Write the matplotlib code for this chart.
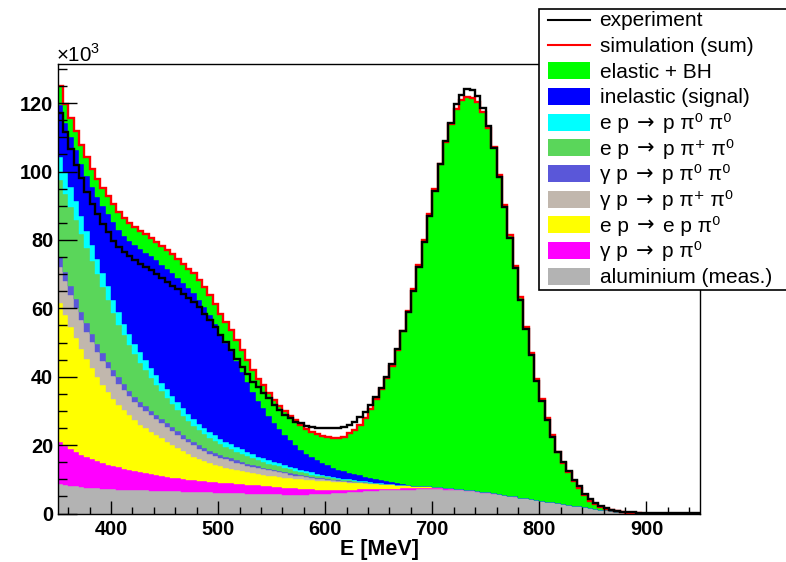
import numpy as np
import matplotlib
matplotlib.use("Agg")
import matplotlib.pyplot as plt
from matplotlib.patches import Rectangle
from matplotlib.lines import Line2D

plt.rcParams['font.family'] = ['Liberation Sans', 'DejaVu Sans']
plt.rcParams['mathtext.fontset'] = 'custom'
plt.rcParams['mathtext.rm'] = 'Liberation Sans'

# ---------------- data (counts in units of 10^3, 5 MeV bins from 350 to 950 MeV) ----------------
E_MIN, E_MAX, BIN_W = 350, 950, 5

aluminium = [8.6, 8.3, 8.1, 7.9, 7.7, 7.6, 7.5, 7.4, 7.3, 7.2,
             7.1, 7.0, 7.0, 6.9, 6.9, 6.8, 6.8, 6.7, 6.7, 6.6,
             6.6, 6.5, 6.5, 6.4, 6.4, 6.3, 6.3, 6.2, 6.2, 6.1,
             6.1, 6.0, 6.0, 5.9, 5.9, 5.8, 5.8, 5.7, 5.7, 5.6,
             5.6, 5.6, 5.5, 5.5, 5.5, 5.5, 5.5, 5.6, 5.6, 5.7,
             5.8, 5.9, 6.0, 6.1, 6.2, 6.3, 6.4, 6.5, 6.6, 6.7,
             6.8, 6.8, 6.9, 6.9, 7.0, 7.0, 7.0, 7.1, 7.1, 7.1,
             7.1, 7.1, 7.0, 7.0, 6.9, 6.8, 6.7, 6.5, 6.3, 6.1,
             6.0, 5.8, 5.6, 5.4, 5.1, 4.9, 4.6, 4.4, 4.2, 4.0,
             3.8, 3.5, 3.3, 3.0, 2.8, 2.6, 2.3, 2.1, 1.8, 1.6,
             1.3, 1.1, 0.9, 0.7, 0.5, 0.35, 0.2, 0.1, 0.05, 0,
             0, 0, 0, 0, 0, 0, 0, 0, 0, 0]

gp_ppi0 = [12.4, 11.5, 10.7, 10.1, 9.5, 8.9, 8.4, 7.9, 7.5, 7.1,
           6.8, 6.5, 6.1, 5.8, 5.5, 5.3, 5.0, 4.8, 4.5, 4.4,
           4.1, 4.0, 3.8, 3.7, 3.5, 3.4, 3.2, 3.2, 3.0, 3.0,
           2.9, 2.9, 2.8, 2.7, 2.6, 2.6, 2.5, 2.5, 2.4, 2.4,
           2.2, 2.1, 2.1, 2.0, 1.9, 1.8, 1.7, 1.5, 1.4, 1.3,
           1.2, 1.1, 1.0, 0.9, 0.8, 0.7, 0.7, 0.6, 0.5, 0.5,
           0.5, 0.5, 0.4, 0.4, 0.4, 0.4, 0.4, 0.4, 0.4, 0.4,
           0.4, 0.4, 0.4, 0.3, 0.3, 0.3, 0.3, 0.3, 0.2, 0.2,
           0.2, 0.2, 0.1, 0.1, 0.1, 0.1, 0, 0, 0, 0,
           0, 0, 0, 0, 0, 0, 0, 0, 0, 0,
           0, 0, 0, 0, 0, 0, 0, 0, 0, 0,
           0, 0, 0, 0, 0, 0, 0, 0, 0, 0]

ep_eppi0 = [40.5, 38.3, 35.8, 33.2, 30.8, 28.6, 26.5, 24.6, 22.8, 21.3,
            19.7, 18.3, 17.1, 16.0, 14.9, 13.9, 13.1, 12.4, 11.7, 11.0,
            10.3, 9.6, 8.9, 8.2, 7.5, 6.9, 6.4, 5.9, 5.5, 5.1,
            4.8, 4.5, 4.3, 4.1, 3.9, 3.7, 3.5, 3.3, 3.2, 3.1,
            3.1, 3.0, 2.9, 2.8, 2.7, 2.7, 2.6, 2.6, 2.6, 2.5,
            2.4, 2.3, 2.2, 2.1, 2.0, 1.9, 1.8, 1.7, 1.6, 1.5,
            1.4, 1.3, 1.2, 1.1, 1.0, 0.8, 0.7, 0.6, 0.5, 0.4,
            0.3, 0.2, 0.2, 0.1, 0.1, 0, 0, 0, 0, 0,
            0, 0, 0, 0, 0, 0, 0, 0, 0, 0,
            0, 0, 0, 0, 0, 0, 0, 0, 0, 0,
            0, 0, 0, 0, 0, 0, 0, 0, 0, 0,
            0, 0, 0, 0, 0, 0, 0, 0, 0, 0]

gp_ppipluspi0 = [10.5, 9.8, 9.3, 8.9, 8.5, 8.1, 7.7, 7.4, 7.1, 6.8,
                 6.5, 6.2, 5.9, 5.6, 5.4, 5.2, 5.0, 4.8, 4.6, 4.4,
                 4.2, 4.0, 3.8, 3.6, 3.5, 3.3, 3.1, 3.0, 2.8, 2.7,
                 2.5, 2.4, 2.3, 2.1, 2.0, 1.9, 1.8, 1.7, 1.6, 1.5,
                 1.4, 1.3, 1.2, 1.1, 1.0, 0.9, 0.8, 0.7, 0.6, 0.6,
                 0.5, 0.4, 0.4, 0.3, 0.3, 0.2, 0.2, 0.2, 0.1, 0.1] + [0] * 60

gp_ppi0pi0 = [2.9, 2.8, 2.7, 2.6, 2.5, 2.4, 2.3, 2.2, 2.1, 2.0,
              1.9, 1.8, 1.7, 1.6, 1.5, 1.4, 1.4, 1.3, 1.3, 1.2,
              1.2, 1.1, 1.1, 1.0, 1.0, 0.95, 0.9, 0.9, 0.85, 0.8,
              0.8, 0.75, 0.7, 0.7, 0.65, 0.6, 0.6, 0.55, 0.5, 0.5,
              0.45, 0.45, 0.4, 0.4, 0.35, 0.35, 0.3, 0.3, 0.3, 0.25,
              0.25, 0.2, 0.2, 0.2, 0.15, 0.15, 0.1, 0.1, 0.1, 0.05] + [0] * 60

ep_ppipluspi0 = [22.5, 22.8, 23.0, 23.0, 22.6, 22.0, 21.3, 20.4, 19.3, 18.0,
                 16.7, 15.4, 14.3, 13.3, 12.4, 11.5, 10.6, 9.7, 8.9, 8.1,
                 7.4, 6.8, 6.2, 5.7, 5.2, 4.8, 4.4, 4.1, 3.8, 3.5,
                 3.2, 3.0, 2.8, 2.6, 2.4, 2.2, 2.0, 1.8, 1.7, 1.5,
                 1.4, 1.3, 1.2, 1.1, 1.0, 0.9, 0.8, 0.7, 0.6, 0.5,
                 0.45, 0.4, 0.35, 0.3, 0.25, 0.2, 0.15, 0.1, 0.1, 0.05] + [0] * 60

ep_ppi0pi0 = [6.8, 6.4, 6.0, 5.6, 5.3, 5.0, 4.7, 4.4, 4.2, 4.0,
              3.8, 3.6, 3.4, 3.3, 3.1, 3.0, 2.9, 2.8, 2.7, 2.6,
              2.5, 2.4, 2.3, 2.2, 2.1, 2.0, 1.9, 1.8, 1.75, 1.7,
              1.6, 1.5, 1.45, 1.4, 1.3, 1.25, 1.2, 1.1, 1.05, 1.0,
              0.95, 0.9, 0.85, 0.8, 0.75, 0.7, 0.65, 0.6, 0.55, 0.5,
              0.45, 0.4, 0.35, 0.3, 0.3, 0.25, 0.2, 0.2, 0.15, 0.1,
              0.1, 0.05] + [0] * 58

inelastic = [15.1, 14.3, 14.5, 15.0, 15.4, 16.2, 17.1, 18.3, 19.7, 21.1,
             22.6, 24.1, 25.7, 27.2, 28.8, 30.2, 31.5, 32.7, 33.6, 34.5,
             35.3, 35.9, 36.3, 36.5, 36.7, 36.8, 36.2, 35.3, 34.0, 32.4,
             30.5, 28.9, 27.2, 25.0, 22.7, 20.4, 18.0, 16.2, 14.6, 12.8,
             11.3, 10.0, 8.9, 7.9, 6.9, 5.8, 5.1, 4.5, 3.9, 3.4,
             3.0, 2.6, 2.3, 2.1, 1.9, 1.8, 1.6, 1.4, 1.3, 1.2,
             1.1, 0.9, 0.8, 0.4, 0.2, 0.1] + [0] * 54

elastic_bh = [5.8, 5.6, 5.5, 5.4, 5.4, 5.3, 5.3, 5.3, 5.3, 5.3,
              5.3, 5.3, 5.3, 5.3, 5.3, 5.4, 5.4, 5.4, 5.5, 5.5,
              5.5, 5.6, 5.6, 5.7, 5.7, 5.8, 5.8, 5.9, 5.9, 6.0,
              6.0, 6.1, 6.1, 6.2, 6.3, 6.4, 6.5, 6.6, 6.7, 6.7,
              6.8, 6.8, 6.9, 7.0, 7.1, 7.2, 7.3, 7.4, 7.6, 7.9,
              8.2, 8.7, 9.2, 10.2, 11.5, 12.9, 14.7, 17.0, 20.2, 23.3,
              26.4, 30.0, 33.9, 39.1, 44.9, 50.9, 57.6, 64.7, 72.0, 79.7,
              87.0, 94.5, 101.0, 106.4, 111.1, 113.9, 114.7, 114.7, 113.9, 111.0,
              106.4, 101.3, 93.3, 84.7, 76.1, 67.5, 58.6, 50.2, 42.7, 35.4,
              29.7, 24.3, 19.6, 15.0, 12.1, 9.4, 7.3, 5.4, 3.5, 2.2,
              1.5, 0.9, 0.5, 0.2, 0.1, 0.05, 0.05, 0.05, 0, 0,
              0, 0, 0, 0, 0, 0, 0, 0, 0, 0]

experiment = [117.0, 111.5, 106.5, 102.0, 98.0, 94.0, 90.5, 87.5, 84.6, 82.2,
              79.8, 77.8, 76.5, 75.3, 74.1, 73.0, 72.0, 71.1, 70.1, 68.9,
              67.7, 66.6, 65.5, 64.3, 63.0, 61.8, 60.4, 58.4, 56.5, 54.5,
              52.1, 50.2, 47.7, 45.3, 42.9, 40.9, 38.5, 37.1, 35.1, 33.7,
              31.7, 30.3, 28.8, 27.8, 26.9, 26.4, 25.6, 25.2, 24.9, 24.9,
              24.9, 25.0, 24.9, 25.4, 25.9, 26.9, 28.3, 29.8, 31.7, 34.1,
              36.6, 40.0, 43.6, 48.2, 53.5, 58.9, 65.2, 72.0, 79.3, 87.0,
              94.3, 102.1, 108.9, 114.2, 119.6, 122.5, 124.2, 123.7, 122.2, 118.6,
              113.3, 106.8, 98.4, 89.5, 80.7, 71.8, 62.5, 54.0, 46.3, 38.8,
              33.0, 27.3, 22.5, 17.9, 15.0, 12.3, 9.9, 7.9, 5.6, 4.1,
              3.1, 2.3, 1.6, 1.1, 0.8, 0.55, 0.4, 0.3, 0.2, 0.2,
              0.15, 0.1, 0.1, 0.1, 0.1, 0.1, 0.05, 0.05, 0.05, 0.05]

# stack from bottom to top
stack_series = [aluminium, gp_ppi0, ep_eppi0, gp_ppipluspi0, gp_ppi0pi0,
                ep_ppipluspi0, ep_ppi0pi0, inelastic, elastic_bh]
stack_colors = ['#b3b3b3', '#ff00ff', '#ffff00', '#c1b7ad', '#5a57d9',
                '#5ad65a', '#00ffff', '#0000ff', '#00ff00']

ARROW = '\u2192'
PI0 = '\u03c0\u2070'
PIP = '\u03c0\u207a'
GAM = '\u03b3'
# each legend label: (left part, right part) around a reaction arrow (None = no arrow)
legend_labels = [('experiment', None), ('simulation (sum)', None),
                 ('elastic + BH', None), ('inelastic (signal)', None),
                 ('e p', 'p ' + PI0 + ' ' + PI0), ('e p', 'p ' + PIP + ' ' + PI0),
                 (GAM + ' p', 'p ' + PI0 + ' ' + PI0), (GAM + ' p', 'p ' + PIP + ' ' + PI0),
                 ('e p', 'e p ' + PI0), (GAM + ' p', 'p ' + PI0),
                 ('aluminium (meas.)', None)]
legend_colors = ['black', 'red', '#00ff00', '#0000ff', '#00ffff', '#5ad65a',
                 '#5a57d9', '#c1b7ad', '#ffff00', '#ff00ff', '#b3b3b3']

x_major = [400, 500, 600, 700, 800, 900]
y_major = [0, 20, 40, 60, 80, 100, 120]

# ---------------- figure ----------------
W, H = 786, 562
fig = plt.figure(figsize=(W / 100, H / 100), dpi=100)
L, R, T, B = 57.5, 700.0, 64.0, 513.5
ax = fig.add_axes([L / W, 1 - B / H, (R - L) / W, (B - T) / H])

edges = np.arange(E_MIN, E_MAX + BIN_W, BIN_W)
bottom = np.zeros(len(edges) - 1)
for vals, col in zip(stack_series, stack_colors):
    top = bottom + np.asarray(vals, dtype=float)
    ax.stairs(top, edges, baseline=bottom, fill=True, facecolor=col,
              edgecolor=col, linewidth=0.3)
    bottom = top

ax.stairs(bottom, edges, baseline=None, color='red', linewidth=1.7)
ax.stairs(np.asarray(experiment), edges, baseline=None, color='black', linewidth=1.7)

ax.set_xlim(E_MIN, E_MAX)
ax.set_ylim(0, (B - T) / 3.42)

ax.set_xticks(x_major)
ax.set_xticks(np.arange(360, 950, 20), minor=True)
ax.set_yticks(y_major)
ax.set_yticks(np.arange(0, 131, 5), minor=True)
ax.tick_params(axis='x', which='major', direction='in', length=9.4, width=1.0,
               pad=5, labelsize=14.3)
ax.tick_params(axis='x', which='minor', direction='in', length=4.7, width=1.0)
ax.tick_params(axis='y', which='major', direction='in', length=13.7, width=1.0,
               pad=3, labelsize=14.3)
ax.tick_params(axis='y', which='minor', direction='in', length=6.8, width=1.0)
for lbl in ax.get_xticklabels() + ax.get_yticklabels():
    lbl.set_fontweight('bold')
for sp in ax.spines.values():
    sp.set_linewidth(1.0)
    sp.set_color('black')

def fx(px):
    return px / W

def fy(py):
    return 1 - py / H

fig.text(fx(379), fy(549), 'E [MeV]', fontsize=15.5, fontweight='bold',
         ha='center', va='center')
fig.text(fx(56), fy(62), r'$\times10^{3}$', fontsize=14.8, ha='left', va='baseline')

# ---------------- legend (ROOT TLegend style) ----------------
lx0, ly0, lx1, ly1 = 538.5, 8.7, 800.0, 290.0
fig.add_artist(Rectangle((fx(lx0), fy(ly1)), (lx1 - lx0) / W, (ly1 - ly0) / H,
                         transform=fig.transFigure, facecolor='white',
                         edgecolor='black', linewidth=1.2, zorder=10, clip_on=False))
row0, drow = 19.5, 25.65
sx0, sx1 = 548.3, 590.0
tx0 = 599.5
FS = 15
gap_px = 8.5
renderer = fig.canvas.get_renderer()
for k, ((left, right), col) in enumerate(zip(legend_labels, legend_colors)):
    yc = row0 + k * drow
    if k < 2:
        fig.add_artist(Line2D([fx(sx0), fx(sx1)], [fy(yc), fy(yc)], color=col,
                              linewidth=1.5, transform=fig.transFigure, zorder=11))
    else:
        fig.add_artist(Rectangle((fx(sx0), fy(yc + 8.5)), (sx1 - sx0) / W, 17 / H,
                                 transform=fig.transFigure, facecolor=col,
                                 edgecolor='none', zorder=11))
    yb = yc + 7.0
    t = fig.text(fx(tx0), fy(yb), left, fontsize=FS, ha='left', va='baseline', zorder=12)
    if right is not None:
        x = tx0 + t.get_window_extent(renderer).width + gap_px
        ta = fig.text(fx(x), fy(yb), ARROW, fontsize=FS, family=['DejaVu Sans'],
                      ha='left', va='baseline', zorder=12)
        x = x + ta.get_window_extent(renderer).width + gap_px
        fig.text(fx(x), fy(yb), right, fontsize=FS, ha='left', va='baseline', zorder=12)

fig.savefig('out.png', dpi=100)
